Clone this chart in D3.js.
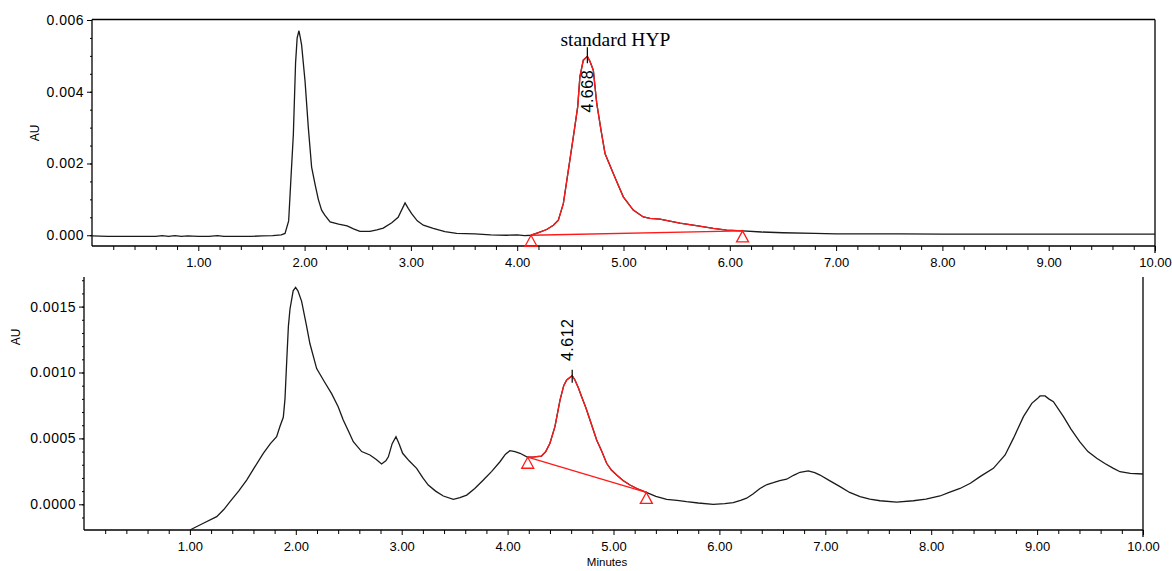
<!DOCTYPE html>
<html>
<head>
<meta charset="utf-8">
<script src="https://cdn.jsdelivr.net/npm/d3@7"></script>
<style>
  html, body { margin: 0; padding: 0; background: #fff; }
  svg { display: block; }
  text { font-family: "Liberation Sans", Arial, sans-serif; fill: #000; }
</style>
</head>
<body>
<svg id="chart" width="1172" height="571"></svg>
<script>
// ---------- DATA ----------
const xTickValues = [1, 2, 3, 4, 5, 6, 7, 8, 9, 10];
const xTickLabels = ["1.00", "2.00", "3.00", "4.00", "5.00", "6.00", "7.00", "8.00", "9.00", "10.00"];
const topYTicks = [0, 0.002, 0.004, 0.006];
const topYLabels = ["0.000", "0.002", "0.004", "0.006"];
const bottomYTicks = [0, 0.0005, 0.001, 0.0015];
const bottomYLabels = ["0.0000", "0.0005", "0.0010", "0.0015"];

// Top chromatogram (standard HYP)
const topTime = [0.00, 0.15, 0.30, 0.45, 0.60, 0.66, 0.72, 0.78, 0.84, 0.90, 1.00, 1.10, 1.18, 1.24, 1.30, 1.40, 1.50, 1.60, 1.70, 1.78, 1.816,
  1.85, 1.87, 1.894, 1.915, 1.93, 1.947, 1.96, 1.972, 2.004, 2.035, 2.066, 2.10, 2.129, 2.16, 2.19, 2.24, 2.32, 2.40, 2.46, 2.52, 2.615,
  2.68, 2.74, 2.82, 2.88, 2.945, 2.975, 3.007, 3.06, 3.117, 3.21, 3.32, 3.43, 3.60, 3.75, 3.90, 4.00, 4.07, 4.13, 4.20, 4.277, 4.34,
  4.387, 4.434, 4.481, 4.528, 4.569, 4.59, 4.622, 4.66, 4.685, 4.716, 4.748, 4.79, 4.826, 4.904, 4.95, 4.998, 5.092, 5.186, 5.25, 5.343,
  5.53, 5.70, 5.845, 5.97, 6.12, 6.30, 6.50, 6.80, 7.00, 7.30, 7.60, 8.00, 8.50, 9.00, 9.50, 10.00];
const topAU = [-0.00002, -0.00003, -0.00003, -0.00003, -0.00003, -0.00001, -0.00003, -0.00001, -0.00003, -0.00002, -0.00003, -0.00003, -0.00001, -0.00003, -0.00003, -0.00003, -0.00003, -0.00002, -0.00001, 0.00001, 0.00005,
  0.0004, 0.0015, 0.0028, 0.0048, 0.0055, 0.0057, 0.0055, 0.0053, 0.0043, 0.0030, 0.0019, 0.0014, 0.0010, 0.0007, 0.00056, 0.00037, 0.00031, 0.00026, 0.00018, 0.00011, 0.00011,
  0.00015, 0.0002, 0.00035, 0.0005, 0.0009, 0.00075, 0.0006, 0.0004, 0.00028, 0.00019, 0.0001, 0.00005, 0.00004, 0.00001, 0.0, 0.00001, -0.00001, 0.0, 0.00007, 0.00016, 0.00028,
  0.00042, 0.00088, 0.00181, 0.00274, 0.00358, 0.00442, 0.00488, 0.00499, 0.00484, 0.0046, 0.00368, 0.0029, 0.00228, 0.00172, 0.0014, 0.00107, 0.0007, 0.00051, 0.00047, 0.00045,
  0.00034, 0.00026, 0.00019, 0.00014, 0.00012, 0.00009, 0.00007, 0.00005, 0.00004, 0.00004, 0.00004, 0.00003, 0.00003, 0.00003, 0.00003, 0.00003];
const topPeakBounds = [4.13, 6.12];
const topBaselineAU = [0.0, 0.00012];
const topPeakRT = 4.66;
const topPeakApexAU = 0.00499;
const topPeakLabel = "4.668";
const topPeakName = "standard HYP";

// Bottom chromatogram (sample)
const bottomTime = [1.00, 1.127, 1.253, 1.32, 1.379, 1.46, 1.536, 1.61, 1.693, 1.76, 1.819, 1.85, 1.882, 1.898, 1.915, 1.93, 1.945, 1.975, 1.998,
  2.02, 2.055, 2.10, 2.133, 2.197, 2.27, 2.338, 2.40, 2.448, 2.50, 2.543, 2.622, 2.70, 2.76, 2.81, 2.85, 2.874, 2.91, 2.946, 2.975, 3.009,
  3.07, 3.141, 3.20, 3.251, 3.32, 3.393, 3.488, 3.55, 3.614, 3.69, 3.771, 3.85, 3.928, 3.98, 4.022, 4.07, 4.117, 4.19, 4.25, 4.32, 4.36,
  4.40, 4.447, 4.495, 4.53, 4.558, 4.61, 4.636, 4.67, 4.699, 4.74, 4.778, 4.841, 4.89, 4.935, 4.98, 5.03, 5.09, 5.156, 5.22, 5.31, 5.40,
  5.502, 5.60, 5.69, 5.80, 5.942, 6.05, 6.131, 6.20, 6.257, 6.32, 6.383, 6.45, 6.509, 6.57, 6.635, 6.70, 6.761, 6.839, 6.90, 6.95, 7.04,
  7.139, 7.23, 7.328, 7.42, 7.517, 7.674, 7.831, 7.95, 8.083, 8.17, 8.272, 8.37, 8.461, 8.587, 8.698, 8.776, 8.871, 8.95, 9.00, 9.028,
  9.075, 9.11, 9.154, 9.249, 9.32, 9.402, 9.48, 9.563, 9.64, 9.721, 9.783, 9.88, 10.00];
const bottomAU = [-0.000195, -0.000144, -0.000094, -0.00004, 0.00002, 0.0001, 0.000184, 0.00028, 0.000387, 0.00046, 0.000513, 0.00059, 0.00066, 0.0008, 0.0011, 0.00135, 0.00148, 0.00162, 0.001646,
  0.00162, 0.00154, 0.00136, 0.00122, 0.00103, 0.00093, 0.00084, 0.00074, 0.00064, 0.00055, 0.000475, 0.0004, 0.000374, 0.00034, 0.000306, 0.00033, 0.00036, 0.00046, 0.000513, 0.00046, 0.000387,
  0.00033, 0.000273, 0.0002, 0.000146, 0.0001, 0.000063, 0.000038, 0.00005, 0.00007, 0.00012, 0.000184, 0.00025, 0.000323, 0.00038, 0.000407, 0.0004, 0.000387, 0.000357, 0.00036, 0.000366, 0.0004,
  0.000463, 0.000589, 0.00079, 0.0009, 0.000943, 0.000975, 0.000943, 0.00088, 0.000816, 0.00073, 0.00064, 0.000488, 0.0004, 0.000311, 0.00026, 0.000222, 0.00018, 0.000146, 0.00012, 0.00009, 0.00006,
  0.000038, 0.00003, 0.00002, 0.00001, 0.0, 0.000005, 0.000012, 0.00003, 0.000046, 0.00008, 0.00012, 0.00015, 0.000164, 0.00018, 0.00019, 0.00022, 0.000243, 0.000253, 0.00024, 0.000222, 0.00018,
  0.000134, 0.00009, 0.000058, 0.00004, 0.000027, 0.000017, 0.000027, 0.00004, 0.000063, 0.00009, 0.00012, 0.00016, 0.00021, 0.000273, 0.000374, 0.0005, 0.000665, 0.000766, 0.0008, 0.000822,
  0.000822, 0.0008, 0.000779, 0.000665, 0.00057, 0.000475, 0.0004, 0.000349, 0.00031, 0.000273, 0.000247, 0.000235, 0.00023];
const bottomPeakBounds = [4.19, 5.31];
const bottomBaselineAU = [0.000357, 0.00009];
const bottomPeakRT = 4.61;
const bottomPeakApexAU = 0.000975;
const bottomPeakLabel = "4.612";

// ---------- CHART ----------
const svg = d3.select("#chart");
svg.append("rect").attr("width", 1172).attr("height", 571).attr("fill", "#fff");

const TRACE = "#1a1a1a", RED = "#ff1a1a";

function drawPanel(o) {
  const g = svg.append("g");
  const x = d3.scaleLinear().domain([0, 10]).range(o.xr);
  const y = d3.scaleLinear().domain(o.yd).range(o.yr);

  if (o.frameTop != null) {
    g.append("line").attr("x1", o.xr[0]).attr("x2", o.xr[1]).attr("y1", o.frameTop).attr("y2", o.frameTop)
      .attr("stroke", "#000").attr("stroke-width", 1.3);
  }
  g.append("line").attr("x1", o.xr[1]).attr("x2", o.xr[1]).attr("y1", o.axisTop).attr("y2", o.yr[0] + 7)
    .attr("stroke", "#000").attr("stroke-width", 1.3);

  const ya = g.append("g").attr("transform", `translate(${o.xr[0]},0)`)
    .call(d3.axisLeft(y).tickValues(o.yTicks).tickFormat((d, i) => o.yLabels[i]).tickSize(5).tickSizeOuter(0).tickPadding(3));
  ya.select(".domain").remove();
  ya.selectAll("text").style("font-size", "14px").style("letter-spacing", "0.5px").attr("fill", "#000");
  ya.selectAll("line").attr("stroke", "#000");
  const ym = g.append("g").attr("transform", `translate(${o.xr[0]},0)`)
    .call(d3.axisLeft(y).tickValues(o.yMinor).tickFormat("").tickSize(2).tickSizeOuter(0));
  ym.select(".domain").remove();
  ym.selectAll("line").attr("stroke", "#000");
  g.append("line").attr("x1", o.xr[0]).attr("x2", o.xr[0]).attr("y1", o.axisTop).attr("y2", o.yr[0])
    .attr("stroke", "#000").attr("stroke-width", 1.3);

  const xa = g.append("g").attr("transform", `translate(0,${o.yr[0]})`)
    .call(d3.axisBottom(x).tickValues(xTickValues).tickFormat((d, i) => xTickLabels[i]).tickSize(5).tickSizeOuter(0).tickPadding(7));
  xa.select(".domain").remove();
  xa.selectAll("text").style("font-size", "13px").attr("fill", "#000");
  xa.selectAll("line").attr("stroke", "#000");
  const xm = g.append("g").attr("transform", `translate(0,${o.yr[0]})`)
    .call(d3.axisBottom(x).tickValues(d3.range(1, 50).map(i => i * 0.2).filter(v => Math.abs(v - Math.round(v)) > 0.01)).tickFormat("").tickSize(4).tickSizeOuter(0));
  xm.select(".domain").remove();
  xm.selectAll("line").attr("stroke", "#000");
  g.append("line").attr("x1", o.xr[0]).attr("x2", o.xr[1]).attr("y1", o.yr[0]).attr("y2", o.yr[0])
    .attr("stroke", "#000").attr("stroke-width", 1.3);

  g.append("text").attr("transform", `translate(${o.auPos[0]},${o.auPos[1]}) rotate(-90)`)
    .attr("text-anchor", "middle").style("font-size", "12px").text("AU");

  const pts = o.t.map((d, i) => [d, o.v[i]]);
  const line = d3.line().x(d => x(d[0])).y(d => y(d[1]));
  g.append("path").attr("d", line(pts)).attr("fill", "none").attr("stroke", TRACE).attr("stroke-width", 1.3);

  const peakPts = pts.filter(d => d[0] >= o.bounds[0] - 1e-9 && d[0] <= o.bounds[1] + 1e-9);
  g.append("path").attr("d", line(peakPts)).attr("fill", "none").attr("stroke", RED).attr("stroke-width", 1.3);
  const base = [[o.bounds[0], o.baseAU[0]], [o.bounds[1], o.baseAU[1]]];
  g.append("path").attr("d", line(base)).attr("fill", "none").attr("stroke", RED).attr("stroke-width", 1.3);
  base.forEach(d => {
    const px = x(d[0]), py = y(d[1]);
    g.append("path").attr("d", `M${px},${py}L${px - 6},${py + 11}L${px + 6},${py + 11}Z`)
      .attr("fill", "none").attr("stroke", RED).attr("stroke-width", 1.3);
  });

  const ax = x(o.rt), ay = y(o.apex);
  g.append("line").attr("x1", ax).attr("x2", ax).attr("y1", ay - o.tick[0]).attr("y2", ay + o.tick[1])
    .attr("stroke", "#000").attr("stroke-width", 1.2);
  g.append("text").attr("transform", `translate(${ax + o.lab[0]},${ay + o.lab[1]}) rotate(-90)`)
    .attr("text-anchor", "middle").style("font-size", "16px").style("letter-spacing", "0.5px").text(o.label);
  if (o.name) {
    g.append("text").attr("x", ax + o.nameOff[0]).attr("y", ay + o.nameOff[1])
      .attr("text-anchor", "middle").style("font-family", "'Liberation Serif', 'Times New Roman', serif")
      .style("font-size", "19.5px").text(o.name);
  }
  return { x, y };
}

drawPanel({
  xr: [92, 1155], yd: [-0.0003, 0.006], yr: [246, 20], frameTop: 19.5, axisTop: 19.5,
  yTicks: topYTicks, yLabels: topYLabels, yMinor: d3.range(0, 13).map(i => i * 0.0005),
  auPos: [39, 133], t: topTime, v: topAU, bounds: topPeakBounds, baseAU: topBaselineAU,
  rt: topPeakRT, apex: topPeakApexAU, label: topPeakLabel, tick: [9, 7], lab: [6, 35],
  name: topPeakName, nameOff: [28, -10]
});

drawPanel({
  xr: [84, 1143], yd: [-0.000195, 0.0015], yr: [530, 306.6], frameTop: null, axisTop: 277,
  yTicks: bottomYTicks, yLabels: bottomYLabels, yMinor: d3.range(-1, 18).map(i => i * 0.0001),
  auPos: [20, 337], t: bottomTime, v: bottomAU, bounds: bottomPeakBounds, baseAU: bottomBaselineAU,
  rt: bottomPeakRT, apex: bottomPeakApexAU, label: bottomPeakLabel, tick: [6, 7], lab: [1, -36],
  name: null
});

svg.append("text").attr("x", 607).attr("y", 566).attr("text-anchor", "middle")
  .style("font-size", "11.5px").text("Minutes");
</script>
</body>
</html>
